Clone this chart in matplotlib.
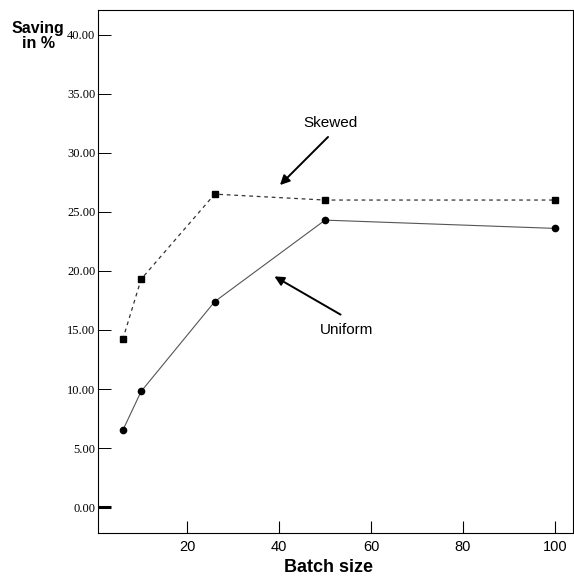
import matplotlib
matplotlib.use("Agg")
import matplotlib.pyplot as plt

# data
batch = [6, 10, 26, 50, 100]
uniform = [6.5, 9.8, 17.4, 24.3, 23.6]
skewed = [14.2, 19.3, 26.5, 26.0, 26.0]
y_ticks = [0, 5, 10, 15, 20, 25, 30, 35, 40]
x_ticks = [20, 40, 60, 80, 100]

W, H = 574, 582

fig = plt.figure(figsize=(W / 100, H / 100), dpi=100)
ax = fig.add_axes([0.171, 0.084, 0.827, 0.899])

ax.plot(batch, skewed, ls=(0, (3, 3)), color="#333333", lw=0.9,
        marker="s", ms=5, mfc="black", mec="black")
ax.plot(batch, uniform, ls="-", color="#555555", lw=0.8,
        marker="o", ms=4.5, mfc="black", mec="black")

ax.set_xlim(0.65, 103.9)
ax.set_ylim(-2.2, 42.1)

ax.set_yticks(y_ticks)
ax.set_yticklabels(["%.2f" % v for v in y_ticks], family="Liberation Serif", fontsize=9)
ax.set_xticks(x_ticks)
ax.set_xticklabels([str(v) for v in x_ticks], family="Liberation Sans", fontsize=10.5)
ax.tick_params(axis="y", direction="in", length=9, width=0.7, pad=2)
ax.tick_params(axis="x", direction="in", length=9, width=0.8, pad=5)
# the zero tick is drawn heavier in the original
ax.yaxis.get_major_ticks()[0].tick1line.set_markeredgewidth(2.2)

for s in ax.spines.values():
    s.set_linewidth(0.8)


def px(x, y):
    # image pixels (origin top-left) -> figure pixels
    return (x, H - y)


arrow = dict(arrowstyle="-|>", color="black", lw=1.4, mutation_scale=14)
ax.annotate("", xy=px(278, 187), xycoords="figure pixels",
            xytext=px(330, 135), textcoords="figure pixels", arrowprops=arrow)
ax.annotate("", xy=px(272, 275), xycoords="figure pixels",
            xytext=px(343, 316), textcoords="figure pixels", arrowprops=arrow)

fig.text(330 / W, 1 - 123 / H, "Skewed", ha="center", va="center",
         family="Liberation Sans", fontsize=11)
fig.text(347 / W, 1 - 330 / H, "Uniform", ha="center", va="center",
         family="Liberation Sans", fontsize=11)

fig.text(38 / W, 1 - 36 / H, "Saving\nin %", ha="center", va="center",
         family="Liberation Sans", fontweight="bold", fontsize=11.5, linespacing=1.0)
fig.text(328 / W, 1 - 567 / H, "Batch size", ha="center", va="center",
         family="Liberation Sans", fontweight="bold", fontsize=13)

fig.savefig("out.png", dpi=100)
